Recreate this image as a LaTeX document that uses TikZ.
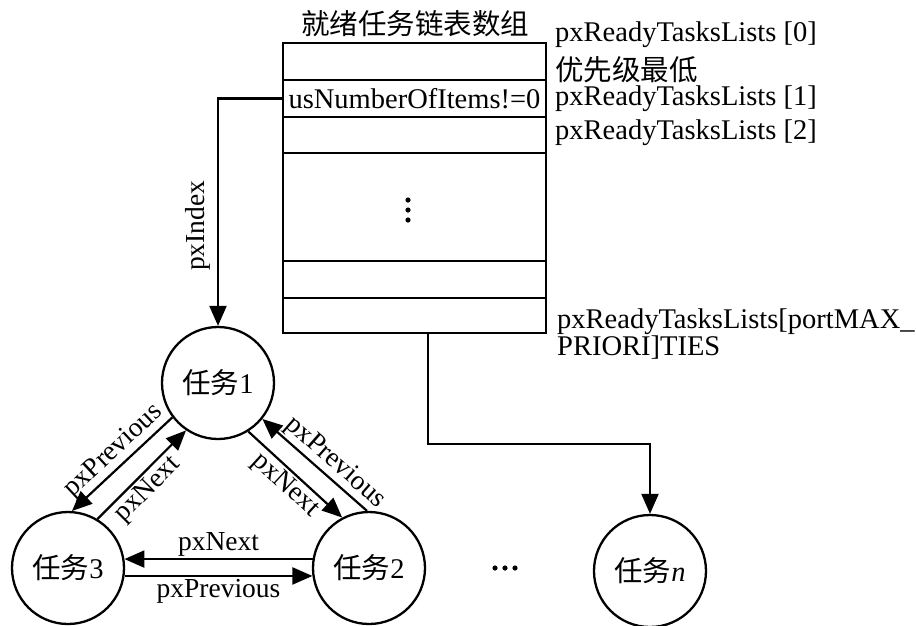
\documentclass[tikz,border=0pt]{standalone}
\usepackage{fontspec}
\setmainfont{Liberation Serif}
\newfontfamily\cjk{Noto Sans CJK SC}
\usetikzlibrary{arrows.meta, positioning}

\begin{document}
\begin{tikzpicture}[x=1pt, y=-1pt,
    font=\fontsize{28.5}{32}\selectfont,
    slot/.style={draw, line width=2.4pt, minimum width=263pt, inner sep=0pt},
    taskcircle/.style={draw, circle, line width=2.3pt, minimum size=112pt, inner sep=0pt},
    link/.style={line width=2.2pt, -{Triangle[length=20pt, width=17pt]}},
    lbl/.style={font=\fontsize{27.5}{30}\selectfont, inner sep=2pt},
    side/.style={anchor=west, inner sep=0pt}]
  \useasboundingbox (0,0) rectangle (916,625);

  % ready list array
  \node (title) at (415,24) {\cjk 就绪任务链表数组};
  \node[slot, minimum height=37pt] (row0) at (414.5,61.5) {};
  \node[slot, minimum height=37pt] (row1) at (414.5,98.5) {usNumberOfItems!=0};
  \node[slot, minimum height=36pt] (row2) at (414.5,135) {};
  \node[slot, minimum height=108pt] (rowdots) at (414.5,207) {};
  \node[slot, minimum height=37pt] (rowm) at (414.5,279.5) {};
  \node[slot, minimum height=35pt] (rowlast) at (414.5,315.5) {};
  \foreach \dy in {-10,0,10}
    \fill ([yshift=\dy pt]rowdots.center) ++(-6.5,3) circle (2.6pt);

  % names of the list slots
  \node[side] (lst0) at (555,35) {pxReadyTasksLists [0]};
  \node[side] (low) at (555,70) {\cjk 优先级最低};
  \node[side] (lst1) at (555,99) {pxReadyTasksLists [1]};
  \node[side] (lst2) at (555,133) {pxReadyTasksLists [2]};
  \node[side] (lstmax) at (557,322) {pxReadyTasksLists[portMAX\_};
  \node[side] (lstmax2) at (557,348) {PRIORI]TIES};

  % tasks
  \node[taskcircle] (t1) at (218,383) {{\cjk 任务}1};
  \node[taskcircle] (t2) at (369,568) {{\cjk 任务}2};
  \node[taskcircle] (t3) at (68,568) {{\cjk 任务}3};
  \node[taskcircle] (tn) at (650,571) {{\cjk 任务}\textit{n}};
  \coordinate (more) at (505,568);
  \foreach \dx in {-10,0,10}
    \fill ([xshift=\dx pt]more) circle (2.6pt);

  % list pointers
  \draw[link] (row1.west) -| node[pos=0.78, lbl, rotate=90, anchor=south, inner sep=7pt] {pxIndex} (t1.north);
  \draw[link] ([xshift=13.5pt]rowlast.south) -- ++(0,110) -| (tn.north);

  \draw[link] (t1.217) -- node[lbl, sloped, above, pos=0.48] {pxPrevious} (t3.86);
  \draw[link] (t3.59) -- node[lbl, sloped, below, pos=0.45] {pxNext} (t1.236);
  \draw[link] (t1.302) -- node[lbl, sloped, below] {pxNext} (t2.118);
  \draw[link] (t2.92) -- node[lbl, sloped, above, pos=0.4] {pxPrevious} (t1.321);
  \draw[link] (t2.171) -- node[lbl, above] {pxNext} (t3.9);
  \draw[link] (t3.-8) -- node[lbl, below] {pxPrevious} (t2.188);
\end{tikzpicture}
\end{document}
